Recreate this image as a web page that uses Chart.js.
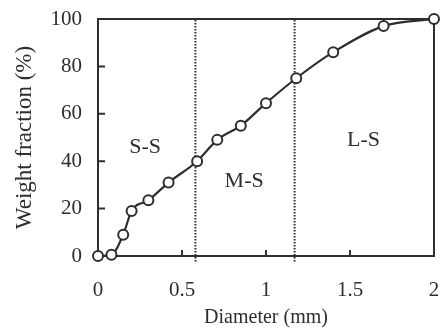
<!DOCTYPE html>
<html>
<head>
<meta charset="utf-8">
<script src="https://cdn.jsdelivr.net/npm/chart.js@4.4.0/dist/chart.umd.min.js"></script>
<style>
html,body{margin:0;padding:0;background:#fff;}
#wrap{width:442px;height:334px;}
</style>
</head>
<body>
<div id="wrap"><canvas id="c" width="442" height="334"></canvas></div>
<script>
// ---- data ----
const diameter = [0, 0.08, 0.15, 0.2, 0.3, 0.42, 0.59, 0.71, 0.85, 1.0, 1.18, 1.4, 1.7, 2.0];
const weightFraction = [0, 0.5, 9, 19, 23.5, 31, 40, 49, 55, 64.5, 75, 86, 97, 100];
const boundaries = [0.58, 1.17];
const regionNames = ['S-S', 'M-S', 'L-S'];
const regionX = [0.28, 0.87, 1.58];
const regionY = [46, 31.5, 49];
const xTicks = [0, 0.5, 1, 1.5, 2];
const yTicks = [0, 20, 40, 60, 80, 100];
const xTitle = 'Diameter (mm)';
const yTitle = 'Weight fraction (%)';

const INK = '#2e2e2e';
const FONT = '"Liberation Serif", "Times New Roman", serif';

function noAutoPad(s) {
  s.paddingLeft = 0; s.paddingRight = 0; s.paddingTop = 0; s.paddingBottom = 0;
}

const framePlugin = {
  id: 'frame',
  beforeDatasetsDraw(chart) {
    const {ctx, chartArea: a, scales: {x, y}} = chart;
    ctx.save();
    ctx.strokeStyle = INK;
    ctx.lineWidth = 2;
    ctx.strokeRect(a.left, a.top, a.right - a.left, a.bottom - a.top);
    // inward tick marks
    ctx.beginPath();
    yTicks.slice(1, -1).forEach(v => {
      const py = y.getPixelForValue(v);
      ctx.moveTo(a.left, py); ctx.lineTo(a.left + 7, py);
    });
    xTicks.slice(1, -1).forEach(v => {
      const px = x.getPixelForValue(v);
      ctx.moveTo(px, a.bottom); ctx.lineTo(px, a.bottom - 6);
    });
    ctx.stroke();
    ctx.restore();
  },
  afterDatasetsDraw(chart) {
    const {ctx, scales: {x, y}} = chart;
    ctx.save();
    ctx.fillStyle = INK;
    ctx.font = '22px ' + FONT;
    ctx.textAlign = 'center';
    ctx.textBaseline = 'middle';
    regionNames.forEach((t, i) => {
      ctx.fillText(t, x.getPixelForValue(regionX[i]), y.getPixelForValue(regionY[i]));
    });
    ctx.restore();
  }
};

const datasets = [{
  data: diameter.map((d, i) => ({x: d, y: weightFraction[i]})),
  borderColor: INK,
  borderWidth: 2.2,
  backgroundColor: '#fff',
  pointBackgroundColor: '#fff',
  pointBorderColor: INK,
  pointBorderWidth: 2,
  pointRadius: 5,
  cubicInterpolationMode: 'monotone',
  clip: false,
  order: 0
}].concat(boundaries.map(b => ({
  data: [{x: b, y: -2.3}, {x: b, y: 100}],
  borderColor: INK,
  borderWidth: 2,
  borderDash: [1.5, 1.5],
  pointRadius: 0,
  clip: false,
  order: 1
})));

new Chart(document.getElementById('c'), {
  type: 'line',
  data: {datasets},
  options: {
    responsive: false,
    animation: false,
    devicePixelRatio: 1,
    layout: {autoPadding: false, padding: {left: 0, right: 8, top: 19, bottom: 0}},
    plugins: {legend: {display: false}, tooltip: {enabled: false}},
    scales: {
      x: {
        type: 'linear', min: 0, max: 2,
        afterBuildTicks: s => { s.ticks = xTicks.map(v => ({value: v})); },
        afterFit: s => { s.height = 78; noAutoPad(s); },
        grid: {display: false, drawTicks: false},
        border: {display: false},
        ticks: {color: INK, font: {family: FONT, size: 21}, padding: 22, maxRotation: 0,
                callback: v => String(v)},
        title: {display: true, text: xTitle, color: INK, font: {family: FONT, size: 20}, padding: 4}
      },
      y: {
        type: 'linear', min: 0, max: 100,
        afterBuildTicks: s => { s.ticks = yTicks.map(v => ({value: v})); },
        afterFit: s => { s.width = 98; noAutoPad(s); },
        grid: {display: false, drawTicks: false},
        border: {display: false},
        ticks: {color: INK, font: {family: FONT, size: 21}, padding: 16,
                callback: v => String(v)},
        title: {display: true, text: yTitle, color: INK, font: {family: FONT, size: 23}, padding: 11}
      }
    }
  },
  plugins: [framePlugin]
});
</script>
</body>
</html>
